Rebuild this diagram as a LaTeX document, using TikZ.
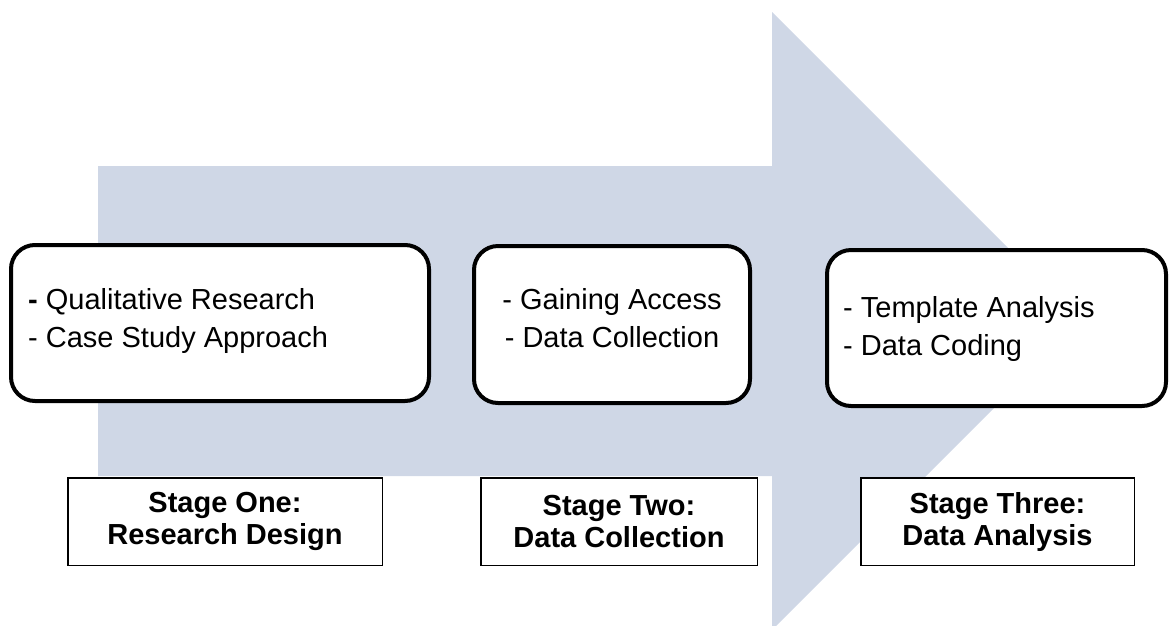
\documentclass[tikz,border=0pt]{standalone}
\usepackage{fontspec}
\setmainfont{Liberation Sans}
\definecolor{arrowfill}{RGB}{207,215,230}
\begin{document}
\begin{tikzpicture}[x=1pt,y=-1pt,
  itembox/.style={draw=black, line width=4pt, fill=white, rounded corners=24pt, inner sep=0pt},
  stagebox/.style={draw=black, line width=1.5pt, fill=white, inner sep=0pt},
  itemtext/.style={font=\fontsize{29}{38}\selectfont, inner sep=0pt},
  stagetext/.style={font=\fontsize{29}{32}\selectfont\bfseries, align=center, inner sep=0pt}]
\useasboundingbox (0,0) rectangle (1173,625);
% big arrow
\fill[arrowfill] (98,166) -- (772,166) -- (772,12) -- (1081,321) -- (772,630) -- (772,476) -- (98,476) -- cycle;
% item boxes
\node[itembox, minimum width=418pt, minimum height=156pt] (b1) at (220,323) {};
\node[itembox, minimum width=276pt, minimum height=157pt] (b2) at (612,324.5) {};
\node[itembox, minimum width=339pt, minimum height=156pt] (b3) at (996.5,328) {};
\node[itemtext, align=left, anchor=west] (t1) at (28,321) {{\bfseries -} Qualitative Research\\- Case Study Approach};
\node[itemtext, align=center] (t2) at (612,318) {- Gaining Access\\- Data Collection};
\node[itemtext, align=left, anchor=west] (t3) at (843,329) {- Template Analysis\\- Data Coding};
% stage boxes
\node[stagebox, minimum width=314.5pt, minimum height=87.5pt] (s1) at (225,521.5) {};
\node[stagebox, minimum width=276.5pt, minimum height=87.5pt] (s2) at (619,521.5) {};
\node[stagebox, minimum width=273.5pt, minimum height=87.5pt] (s3) at (997.5,521.5) {};
\node[stagetext] (st1) at (s1.center) {Stage One:\\Research Design};
\node[stagetext] (st2) at (s2.center) {Stage Two:\\Data Collection};
\node[stagetext] (st3) at (s3.center) {Stage Three:\\Data Analysis};
\end{tikzpicture}
\end{document}
